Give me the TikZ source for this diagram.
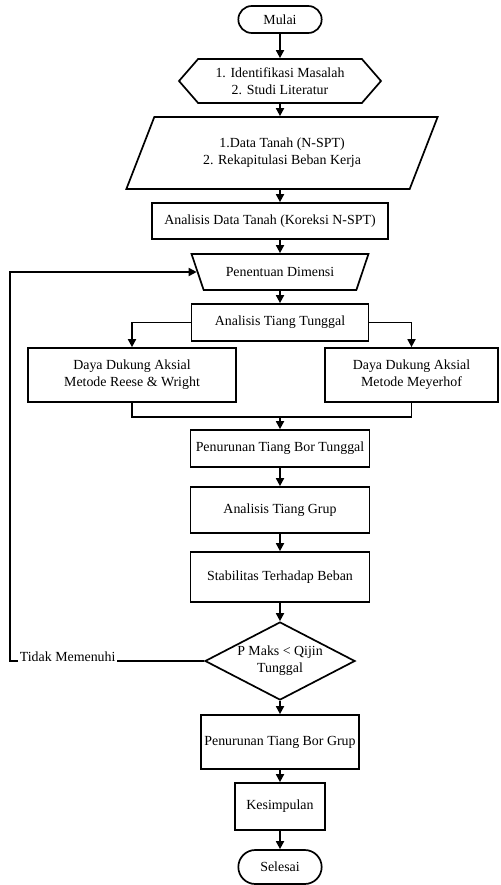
\documentclass[tikz,border=0pt]{standalone}
\usepackage{fontspec}
\setmainfont{Liberation Serif}
\usetikzlibrary{shapes.geometric, shapes.misc, shapes.symbols, arrows.meta}

\begin{document}
\begin{tikzpicture}[x=1pt, y=-1pt, line width=1.7pt,
    font=\fontsize{13.9}{16.7}\selectfont,
    terminal/.style={rounded rectangle, draw, minimum width=90pt, minimum height=27pt},
    process/.style={rectangle, draw, align=center, inner sep=2pt},
    prepare/.style={signal, signal to=west and east, draw, align=center},
    datashape/.style={trapezium, draw, align=center, trapezium stretches=true},
    decision/.style={diamond, draw, align=center, aspect=1.92, inner sep=0pt},
    flow/.style={-{Triangle[length=8pt, width=8pt]}}]
    \useasboundingbox (0,0) rectangle (500,885);

    % Define nodes along the main column
    \node[terminal] at (280,19.5) (mulai) {Mulai};
    \node[prepare, minimum width=202pt, minimum height=44pt, signal pointer angle=98] at (280,81) (ident) {1. Identifikasi Masalah\\2. Studi Literatur};
    \node[datashape, trapezium left angle=63.4, trapezium right angle=116.6, minimum width=312pt, minimum height=72pt] at (282,153) (data) {1.Data Tanah (N-SPT)\\2. Rekapitulasi Beban Kerja};
    \node[process, minimum width=236pt, minimum height=36pt] at (270,221) (koreksi) {Analisis Data Tanah (Koreksi N-SPT)};
    \node[datashape, trapezium left angle=119.7, trapezium right angle=119.7, minimum width=177pt, minimum height=36pt] at (280,272) (dimensi) {Penentuan Dimensi};
    \node[process, minimum width=177pt, minimum height=37pt] at (280,322.5) (tunggal) {Analisis Tiang Tunggal};
    \node[process, minimum width=208pt, minimum height=54pt] at (132,375) (reese) {Daya Dukung Aksial\\Metode Reese \& Wright};
    \node[process, minimum width=173pt, minimum height=54pt] at (411.5,375) (meyerhof) {Daya Dukung Aksial\\Metode Meyerhof};
    \node[process, minimum width=179pt, minimum height=37pt] at (280,448.5) (turuntunggal) {Penurunan Tiang Bor Tunggal};
    \node[process, minimum width=179pt, minimum height=46pt] at (280,510) (grup) {Analisis Tiang Grup};
    \node[process, minimum width=179pt, minimum height=50pt] at (280,577) (stabil) {Stabilitas Terhadap Beban};
    \node[decision, minimum width=150pt, minimum height=78pt] at (280,661) (cek) {P Maks < Qijin\\Tunggal};
    \node[process, minimum width=158pt, minimum height=54pt] at (280,742) (turungrup) {Penurunan Tiang Bor Grup};
    \node[process, minimum width=90pt, minimum height=47pt] at (280,806.5) (simpul) {Kesimpulan};
    \node[terminal, minimum height=34pt] at (280,867) (selesai) {Selesai};
    \node[inner sep=1pt, anchor=base west] at (18,661) (tidak) {Tidak Memenuhi};
    \coordinate (gabung) at (280,417);
    \coordinate (balik) at (10,661);

    % Draw main flow arrows
    \draw[flow] (mulai) -- (ident);
    \draw[flow] (ident) -- (ident |- data.north);
    \draw[flow] (data.south -| ident) -- (ident |- koreksi.north);
    \draw[flow] (koreksi.south -| ident) -- (ident |- dimensi.north);
    \draw[flow] (dimensi) -- (tunggal);

    % Draw branches to both methods and join them
    \draw[flow] (tunggal.west) -| (reese.north);
    \draw[flow] (tunggal.east) -| (meyerhof.north);
    \draw (reese.south) |- (gabung) -| (meyerhof.south);
    \draw[flow] (gabung) -- (turuntunggal);

    \draw[flow] (turuntunggal) -- (grup);
    \draw[flow] (grup) -- (stabil);
    \draw[flow] (stabil) -- (cek);
    \draw[flow] (cek) -- (turungrup);
    \draw[flow] (turungrup) -- (simpul);
    \draw[flow] (simpul) -- (selesai);

    % Draw loop back when check fails
    \draw (cek.west) -- (tidak.base east);
    \draw[flow] (tidak.base west) -- (balik) |- (dimensi.west);

\end{tikzpicture}
\end{document}
